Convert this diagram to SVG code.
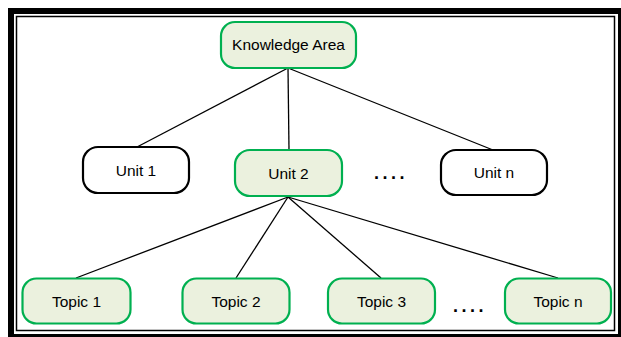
<svg xmlns="http://www.w3.org/2000/svg" width="621" height="337" viewBox="0 0 621 337">
<style>
.g{fill:#EBF1DE;stroke:#00B050;stroke-width:2.2}
.w{fill:#FFFFFF;stroke:#000000;stroke-width:2.2}
.t{font-family:"Liberation Sans",Arial,sans-serif;font-size:15.5px;fill:#000;text-anchor:middle}
.c line{stroke:#000;stroke-width:1.3}
.d{font-family:"Liberation Sans",Arial,sans-serif;font-size:18px;font-weight:bold;fill:#000;letter-spacing:3.5px}
</style>
<rect x="0" y="0" width="621" height="337" fill="#FFFFFF"/>
<rect x="11" y="11" width="610" height="326" fill="none" stroke="#000" stroke-width="6"/>
<rect x="16.5" y="16.5" width="598" height="314" fill="none" stroke="#000" stroke-width="1.5"/>
<g class="c" id="connectors">
<line x1="288" y1="68" x2="137" y2="147"/>
<line x1="288" y1="68" x2="289" y2="150"/>
<line x1="288" y1="68" x2="493" y2="150"/>
<line x1="288" y1="197" x2="76" y2="278"/>
<line x1="288" y1="197" x2="236" y2="278"/>
<line x1="288" y1="197" x2="381" y2="278"/>
<line x1="288" y1="197" x2="558" y2="278"/>
</g>
<g id="knowledge-area"><rect class="g" x="221" y="22" width="135" height="46" rx="14"/><text class="t" x="288.5" y="50">Knowledge Area</text></g>
<g id="unit-1"><rect class="w" x="83" y="147" width="106" height="46" rx="15"/><text class="t" x="136" y="175.5">Unit 1</text></g>
<g id="unit-2"><rect class="g" x="235" y="150" width="107" height="46" rx="15"/><text class="t" x="288.5" y="178.5">Unit 2</text></g>
<text class="d" x="374" y="179">....</text>
<g id="unit-n"><rect class="w" x="441" y="150" width="106" height="45" rx="15"/><text class="t" x="494" y="178">Unit n</text></g>
<g id="topic-1"><rect class="g" x="22.5" y="278.5" width="108" height="45" rx="14"/><text class="t" x="76.5" y="306.5">Topic 1</text></g>
<g id="topic-2"><rect class="g" x="182.5" y="278.5" width="107" height="45" rx="14"/><text class="t" x="236" y="306.5">Topic 2</text></g>
<g id="topic-3"><rect class="g" x="328" y="278.5" width="107" height="45" rx="14"/><text class="t" x="381.5" y="306.5">Topic 3</text></g>
<text class="d" x="453" y="312">....</text>
<g id="topic-n"><rect class="g" x="505" y="278.5" width="106" height="45" rx="14"/><text class="t" x="558" y="306.5">Topic n</text></g>
</svg>
